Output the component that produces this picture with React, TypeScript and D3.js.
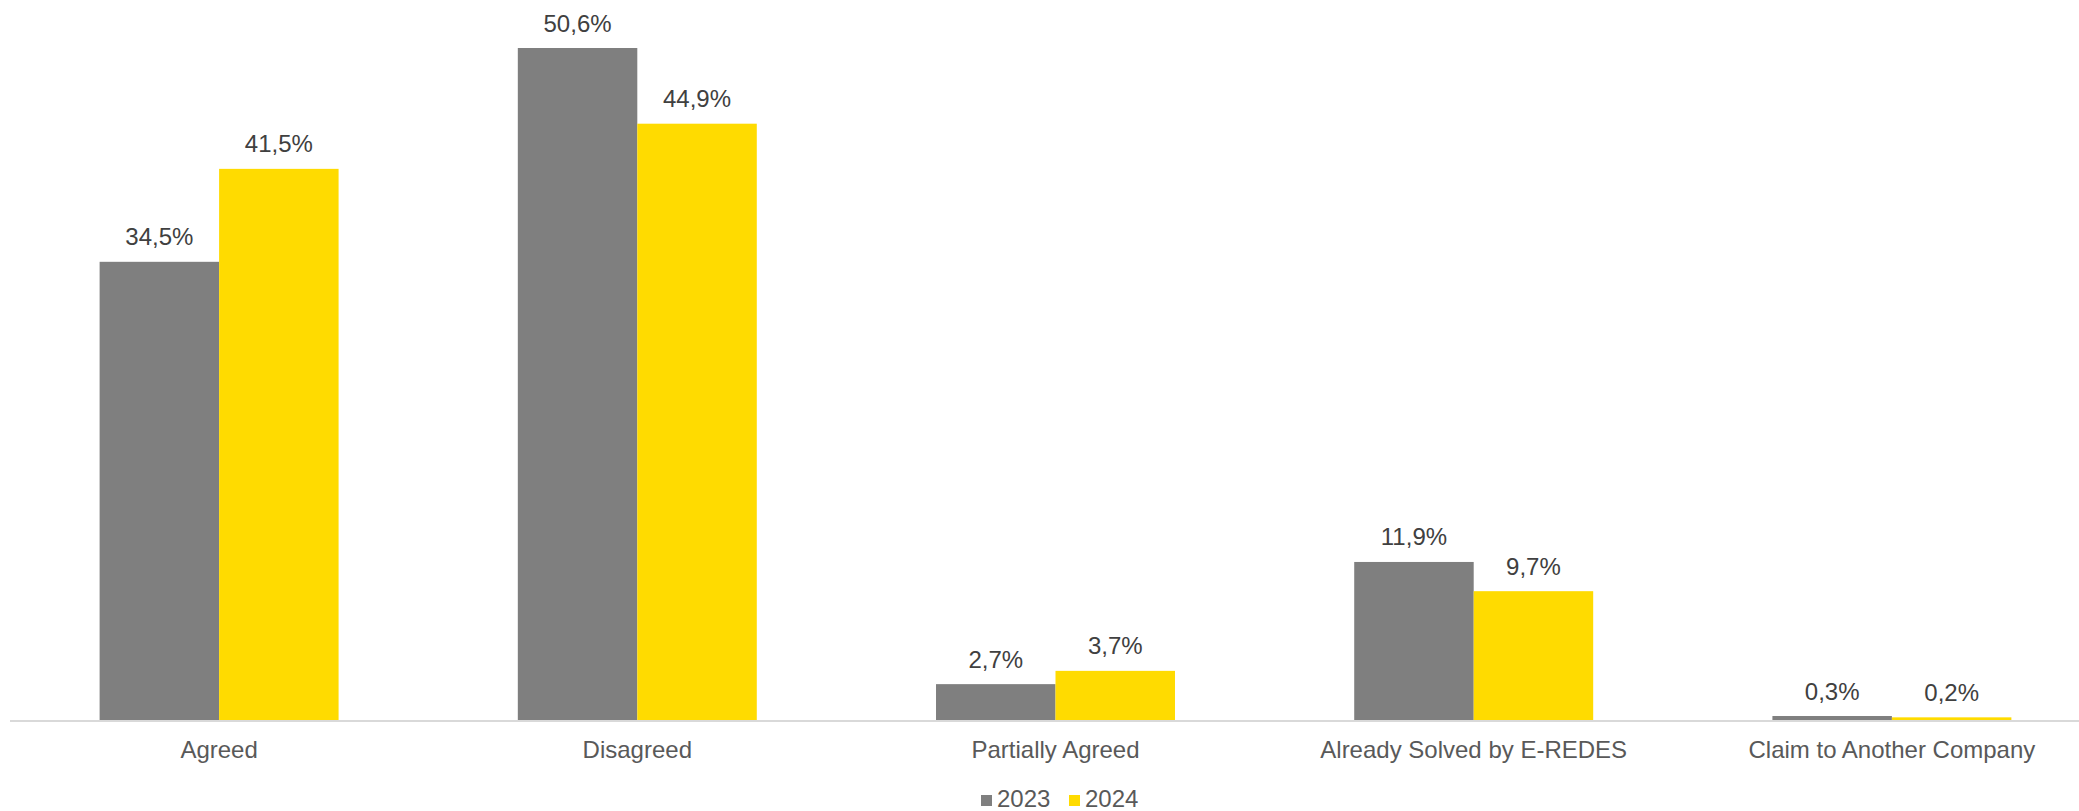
import React from "react";
import * as d3 from "d3";

const categories = [
  "Agreed",
  "Disagreed",
  "Partially Agreed",
  "Already Solved by E-REDES",
  "Claim to Another Company",
];
const seriesNames = ["2023", "2024"];
const values2023 = [34.5, 50.6, 2.7, 11.9, 0.3];
const values2024 = [41.5, 44.9, 3.7, 9.7, 0.2];
const colors = ["#7F7F7F", "#FFDB00"];

const W = 2079;
const H = 811;
const FONT = "'Liberation Sans', Arial, sans-serif";

export default function App() {
  const seriesValues = [values2023, values2024];
  const step = 418.2;
  const x0 = d3
    .scaleBand<string>()
    .domain(categories)
    .range([10, 10 + step * categories.length])
    .paddingInner(0)
    .paddingOuter(0);
  const x1 = d3
    .scaleBand<string>()
    .domain(seriesNames)
    .range([0, x0.bandwidth()])
    .paddingInner(0)
    .paddingOuter(0.75);
  const baseY = 720;
  const y = d3.scaleLinear().domain([0, 50.6]).range([baseY, 48]);
  const fmt = (v: number) => v.toFixed(1).replace(".", ",") + "%";

  return (
    <svg
      width={W}
      height={H}
      style={{ position: "absolute", left: 0, top: 0, background: "#fff" }}
      fontFamily={FONT}
    >
      {categories.map((c, i) => (
        <g key={c} transform={`translate(${x0(c)},0)`}>
          {seriesNames.map((s, si) => {
            const v = seriesValues[si][i];
            const bx = x1(s)!;
            const bw = x1.bandwidth();
            return (
              <g key={s}>
                <rect
                  x={bx}
                  y={y(v)}
                  width={bw}
                  height={baseY - y(v)}
                  fill={colors[si]}
                />
                <text
                  x={bx + bw / 2}
                  y={y(v) - 16.5}
                  textAnchor="middle"
                  fontSize={24}
                  fill="#404040"
                >
                  {fmt(v)}
                </text>
              </g>
            );
          })}
          <text
            x={x0.bandwidth() / 2}
            y={758}
            textAnchor="middle"
            fontSize={24}
            fill="#595959"
          >
            {c}
          </text>
        </g>
      ))}
      <line x1={10} x2={W} y1={baseY + 1} y2={baseY + 1} stroke="#D9D9D9" strokeWidth={2} />
      {/* legend */}
      <g>
        <rect x={981} y={795} width={11} height={11} fill={colors[0]} />
        <text x={997} y={807} fontSize={24} fill="#595959">
          {seriesNames[0]}
        </text>
        <rect x={1069} y={795} width={11} height={11} fill={colors[1]} />
        <text x={1085} y={807} fontSize={24} fill="#595959">
          {seriesNames[1]}
        </text>
      </g>
    </svg>
  );
}
